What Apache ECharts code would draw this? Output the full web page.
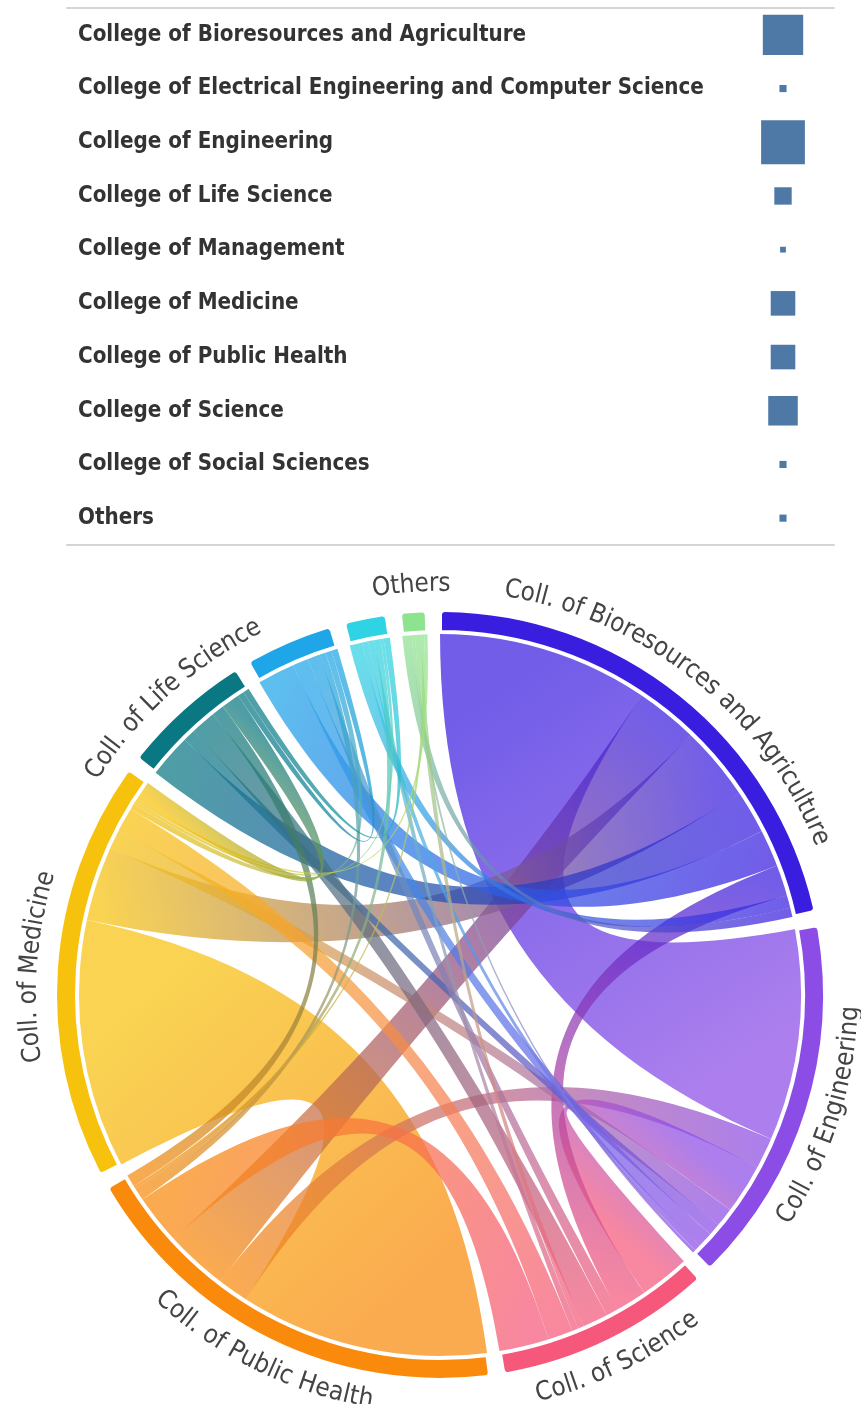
<!DOCTYPE html>
<html>
<head>
<meta charset="utf-8">
<script src="https://cdn.jsdelivr.net/npm/echarts@6.0.0/dist/echarts.min.js"></script>
<style>
  html, body { margin: 0; padding: 0; background: #fff; }
  #main { width: 861px; height: 1404px; }
</style>
</head>
<body>
<div id="main"></div>
<script>
// table of colleges with a size-encoded count
var colleges = [
  'College of Bioresources and Agriculture',
  'College of Electrical Engineering and Computer Science',
  'College of Engineering',
  'College of Life Science',
  'College of Management',
  'College of Medicine',
  'College of Public Health',
  'College of Science',
  'College of Social Sciences',
  'Others'
];
var collegeCounts = [97, 3, 114, 18, 2, 36, 36, 52, 3, 3];

// chord nodes, clockwise from the top
var nodeIds = ['bio', 'eng', 'sci', 'ph', 'med', 'life', 'eecs', 'soc', 'oth'];
var nodeNames = [
  'Coll. of Bioresources and Agriculture',
  'Coll. of Engineering',
  'Coll. of Science',
  'Coll. of Public Health',
  'Coll. of Medicine',
  'Coll. of Life Science',
  'Coll. of Electrical Engineering and Computer Science',
  'Coll. of Social Sciences',
  'Others'
];
var nodeColors = ['#3a1ee0', '#8c4de6', '#f5587b', '#f98a0b', '#f7c20e', '#0a7883', '#1ea6e8', '#30d3e3', '#8ee38f'];
var nodeLabelShown = [true, true, true, true, true, true, false, false, true];

// [source, target, value] -- list order sets where ribbons sit on each arc
var chordLinks = [
  ['bio', 'eng', 34], ['ph', 'med', 40], ['eng', 'ph', 5], ['bio', 'ph', 10],
  ['bio', 'med', 12], ['eng', 'sci', 8], ['bio', 'life', 7], ['bio', 'eecs', 6],
  ['bio', 'sci', 5], ['eng', 'med', 3], ['eng', 'life', 2], ['eng', 'eecs', 2.5],
  ['sci', 'eecs', 2], ['sci', 'life', 4], ['bio', 'soc', 2], ['bio', 'oth', 1.5],
  ['eng', 'soc', 1], ['eng', 'oth', 0.5], ['sci', 'oth', 1], ['sci', 'soc', 1],
  ['med', 'sci', 4], ['sci', 'ph', 8], ['ph', 'eecs', 1], ['ph', 'soc', 1],
  ['ph', 'oth', 0.5], ['ph', 'life', 2], ['med', 'eecs', 1], ['med', 'soc', 0.5],
  ['med', 'oth', 0.5], ['med', 'life', 3], ['life', 'eecs', 1], ['life', 'soc', 1]
];

function nameOf(id) {
  return nodeNames[nodeIds.indexOf(id)];
}

// pick a narrow font if it is installed
var probe = document.createElement('canvas').getContext('2d');
function textWidth(font, s) {
  probe.font = font;
  return probe.measureText(s).width;
}
var hasNarrow = textWidth('30px "Liberation Sans Narrow", monospace', 'Coll. of Medicine') !==
  textWidth('30px monospace', 'Coll. of Medicine');
var family = hasNarrow ? '"Liberation Sans Narrow"' : '"DejaVu Sans Condensed"';
var tableFont = hasNarrow ? 27 : 22.2;
var arcFont = hasNarrow ? '31px ' + family : '26px ' + family;

var chart = echarts.init(document.getElementById('main'));

var option = {
  animation: false,
  backgroundColor: '#fff',
  grid: [
    { left: 67, right: 27, top: 8, height: 537 },
    { left: 761, width: 44, top: 8, height: 537 }
  ],
  xAxis: [
    {
      gridIndex: 0, type: 'value', position: 'top', min: 0, max: 1,
      axisLine: { show: true, lineStyle: { color: '#d4d4d4', width: 2 } },
      axisTick: { show: false }, axisLabel: { show: false }, splitLine: { show: false }
    },
    {
      gridIndex: 0, type: 'value', position: 'bottom', min: 0, max: 1,
      axisLine: { show: true, lineStyle: { color: '#d4d4d4', width: 2 } },
      axisTick: { show: false }, axisLabel: { show: false }, splitLine: { show: false }
    },
    {
      gridIndex: 1, type: 'category', data: ['count'], show: false
    }
  ],
  yAxis: [
    {
      gridIndex: 0, type: 'category', data: colleges, inverse: true,
      axisLine: { show: false }, axisTick: { show: false },
      axisLabel: {
        inside: true, margin: 11, color: '#333',
        fontFamily: family, fontWeight: 'bold', fontSize: tableFont
      }
    },
    {
      gridIndex: 1, type: 'category', data: colleges, inverse: true, show: false
    }
  ],
  series: [
    {
      type: 'scatter',
      xAxisIndex: 2, yAxisIndex: 1,
      symbol: 'rect',
      symbolSize: function (v) { return 4.1 * Math.sqrt(v[2]); },
      itemStyle: { color: '#4e79a7', opacity: 1 },
      data: colleges.map(function (c, i) { return ['count', c, collegeCounts[i]]; })
    },
    {
      type: 'chord',
      center: [440, 995],
      radius: [363, 385],
      startAngle: 90,
      clockwise: true,
      padAngle: 2,
      minAngle: 0,
      label: { show: false },
      itemStyle: { borderColor: '#fff', borderWidth: 4 },
      lineStyle: { color: 'gradient', opacity: 0.72, borderColor: '#fff', borderWidth: 0.8 },
      data: nodeNames.map(function (n, i) {
        return { name: n, itemStyle: { color: nodeColors[i] } };
      }),
      links: chordLinks.map(function (l) {
        return { source: nameOf(l[0]), target: nameOf(l[1]), value: l[2] };
      })
    }
  ]
};
chart.setOption(option);

// curved labels along each arc, placed from the chord layout
function arcLabels() {
  var data = chart.getModel().getSeriesByIndex(1).getData();
  var els = [];
  data.each(function (idx) {
    if (!nodeLabelShown[idx]) return;
    var lay = data.getItemLayout(idx);
    if (!lay) return;
    var text = nodeNames[idx];
    var mid = (lay.startAngle + lay.endAngle) / 2;
    var fromTop = ((mid + Math.PI / 2) % (2 * Math.PI) + 2 * Math.PI) % (2 * Math.PI);
    var flip = fromTop > Math.PI / 2 && fromTop < Math.PI * 3 / 2;
    var R = lay.r + 26;
    var total = textWidth(arcFont, text);
    for (var i = 0; i < text.length; i++) {
      var off = textWidth(arcFont, text.slice(0, i));
      var w = textWidth(arcFont, text.slice(0, i + 1)) - off;
      var d = (off + w / 2 - total / 2) / R;
      var a = flip ? mid - d : mid + d;
      els.push({
        type: 'text',
        x: lay.cx + R * Math.cos(a),
        y: lay.cy + R * Math.sin(a),
        rotation: flip ? -(a - Math.PI / 2) : -(a + Math.PI / 2),
        silent: true,
        style: {
          text: text.charAt(i), font: arcFont, fill: '#444',
          textAlign: 'center', textVerticalAlign: 'middle',
          align: 'center', verticalAlign: 'middle'
        }
      });
    }
  });
  chart.setOption({ graphic: els });
}
arcLabels();
</script>
</body>
</html>
